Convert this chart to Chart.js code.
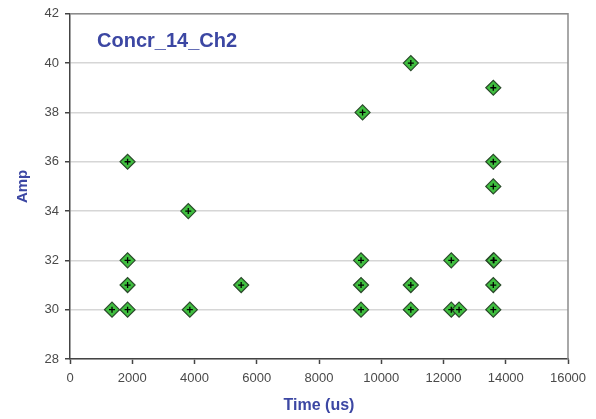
<!DOCTYPE html>
<html>
<head>
<meta charset="utf-8">
<script src="https://cdn.jsdelivr.net/npm/chart.js@4/dist/chart.umd.min.js"></script>
<style>
html,body{margin:0;padding:0;background:#fff;}
#wrap{width:596px;height:419px;position:relative;}
</style>
</head>
<body>
<div id="wrap"><canvas id="c" width="596" height="419"></canvas></div>
<script>
const chartTitle = "Concr_14_Ch2";
const xTitle = "Time (us)";
const yTitle = "Amp";
const timeUs = [1350, 1850, 1850, 1850, 1850, 3800, 3850, 5500, 9350, 9350, 9350, 9400, 10950, 10950, 10950, 12250, 12250, 12500, 13600, 13600, 13600, 13620, 13600, 13600, 13600];
const amp    = [30,   30,   31,   32,   36,   34,   30,   31,   30,   31,   32,   38,   30,    31,    40,    32,    30,    30,    30,    31,    32,    32,    35,    36,    39];
const xTicks = [0, 2000, 4000, 6000, 8000, 10000, 12000, 14000, 16000];
const yTicks = [28, 30, 32, 34, 36, 38, 40, 42];

const pts = timeUs.map((t, i) => ({x: t, y: amp[i]}));
const FONT = '"Liberation Sans", Arial, sans-serif';

const frame = {
  id: 'frame',
  beforeDatasetsDraw(chart) {
    const {ctx, chartArea: a} = chart;
    ctx.save();
    ctx.strokeStyle = '#8c8c8c';
    ctx.lineWidth = 1.5;
    ctx.beginPath();
    ctx.moveTo(a.left, a.top);
    ctx.lineTo(a.right, a.top);
    ctx.lineTo(a.right, a.bottom);
    ctx.stroke();
    ctx.restore();
  },
  afterDraw(chart) {
    const {ctx} = chart;
    ctx.save();
    ctx.fillStyle = '#3c47a3';
    ctx.font = 'bold 20px ' + FONT;
    ctx.textAlign = 'left';
    ctx.textBaseline = 'middle';
    ctx.fillText(chartTitle, 97, 41);
    ctx.restore();
  }
};

new Chart(document.getElementById('c'), {
  type: 'scatter',
  data: {
    datasets: [
      {
        label: chartTitle,
        data: pts,
        order: 2,
        pointStyle: 'rectRot',
        pointRadius: 7.5,
        pointHoverRadius: 7.5,
        backgroundColor: '#3fbf3f',
        borderColor: '#2b4a2b',
        borderWidth: 1.2
      },
      {
        label: chartTitle + ' centre',
        data: pts,
        order: 1,
        pointStyle: 'cross',
        pointRadius: 3,
        pointHoverRadius: 3,
        borderColor: '#000',
        borderWidth: 1.3
      }
    ]
  },
  plugins: [frame],
  options: {
    responsive: false,
    animation: false,
    events: [],
    layout: {padding: {left: 0, right: 28, top: 11, bottom: 0}},
    plugins: {
      legend: {display: false},
      title: {display: false},
      tooltip: {enabled: false}
    },
    scales: {
      x: {
        type: 'linear',
        min: 0, max: 16000,
        afterFit(s) { s.height = 60; },
        afterBuildTicks(s) { s.ticks = xTicks.map(v => ({value: v})); },
        ticks: {color: '#4a4a4a', font: {family: FONT, size: 13}, padding: 7, maxRotation: 0, autoSkip: false, callback: v => String(v)},
        grid: {drawOnChartArea: false, drawTicks: true, tickLength: 5, tickColor: '#444', tickWidth: 1.5},
        border: {color: '#444', width: 1.5},
        title: {display: true, text: xTitle, color: '#3c47a3', font: {family: FONT, size: 16, weight: 'bold'}, padding: {top: 0, bottom: 4}}
      },
      y: {
        type: 'linear',
        min: 28, max: 42,
        afterFit(s) { s.width = 70; },
        afterBuildTicks(s) { s.ticks = yTicks.map(v => ({value: v})); },
        ticks: {color: '#4a4a4a', font: {family: FONT, size: 13}, padding: 6, autoSkip: false, callback: v => String(v)},
        grid: {color: '#d6d6d6', lineWidth: 1.5, drawTicks: true, tickLength: 5, tickColor: '#444', tickWidth: 1.5},
        border: {color: '#444', width: 1.5},
        title: {display: true, text: yTitle, color: '#3c47a3', font: {family: FONT, size: 15, weight: 'bold'}, padding: {top: 14, bottom: 0}}
      }
    }
  }
});
</script>
</body>
</html>
